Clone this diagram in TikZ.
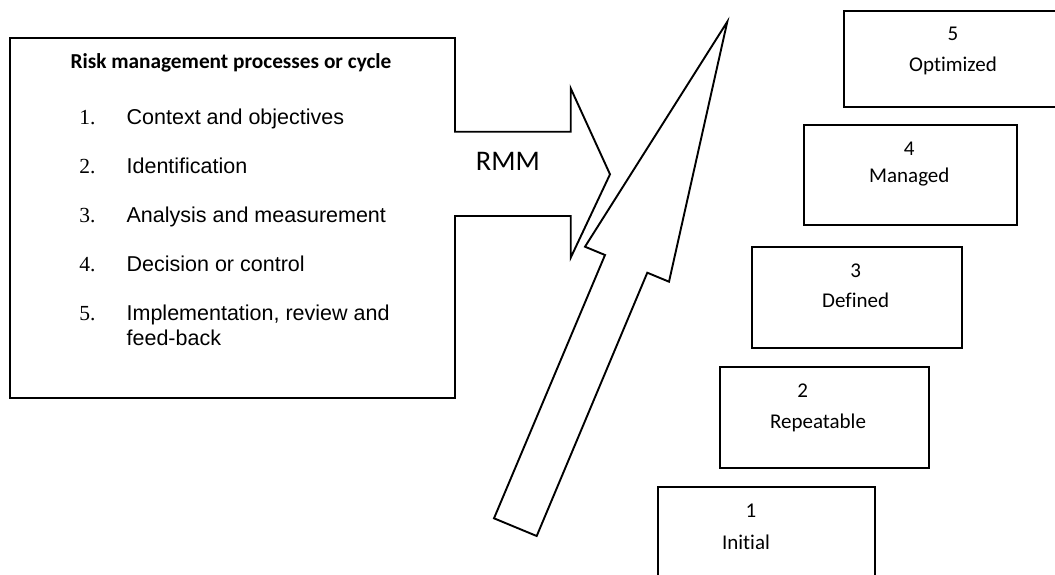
\documentclass[tikz,border=0pt]{standalone}
\usepackage{fontspec}
\setmainfont{Carlito}[Ligatures=NoCommon]
\newfontfamily\arialf{Liberation Sans}
\newfontfamily\timesf{Liberation Serif}
\begin{document}
\begin{tikzpicture}[x=1pt,y=-1pt,line width=1.9pt,line join=miter,
  framebox/.style={draw,inner sep=0,anchor=north west,fill=white},
  itemnum/.style={anchor=base west,inner sep=0,font=\timesf\fontsize{21.5}{25}\selectfont},
  itemtxt/.style={anchor=base west,inner sep=0,font=\arialf\fontsize{21.5}{25}\selectfont},
  lvltxt/.style={anchor=base,inner sep=0,font=\fontsize{21}{25}\selectfont},
  shapeline/.style={draw,fill=white}]
\useasboundingbox (0,0) rectangle (1055,574);
\clip (0,0) rectangle (1055,574);

% left box
\node[framebox,minimum width=445pt,minimum height=360pt] (rmp) at (9,37) {};
\node[anchor=base,inner sep=0,font=\bfseries\fontsize{21.3}{25}\selectfont] (title) at (231,68.3) {Risk management processes or cycle};
\node[itemnum] (n1) at (78.3,124.3) {1.};
\node[itemtxt] (t1) at (125.7,124.3) {Context and objectives};
\node[itemnum] (n2) at (78.3,173.3) {2.};
\node[itemtxt] (t2) at (125.7,173.3) {Identification};
\node[itemnum] (n3) at (78.3,222.3) {3.};
\node[itemtxt] (t3) at (125.7,222.3) {Analysis and measurement};
\node[itemnum] (n4) at (78.3,271.3) {4.};
\node[itemtxt] (t4) at (125.7,271.3) {Decision or control};
\node[itemnum] (n5) at (78.3,320.3) {5.};
\node[itemtxt] (t5) at (125.7,320.3) {Implementation, review and};
\node[itemtxt] (t5b) at (125.7,345.3) {feed-back};

% RMM block arrow
\coordinate (ra1) at (454,131.7);
\coordinate (ra2) at (570.7,131.7);
\coordinate (ra3) at (570.7,88.3);
\coordinate (ratip) at (610,174.3);
\coordinate (ra5) at (570.7,257.7);
\coordinate (ra6) at (570.7,216);
\coordinate (ra7) at (454,216);
\fill[white] (ra1) -- (ra2) -- (ra3) -- (ratip) -- (ra5) -- (ra6) -- (ra7) -- cycle;
\draw (ra1) -- (ra2) -- (ra3) -- (ratip) -- (ra5) -- (ra6) -- (ra7);
\node[anchor=base west,inner sep=0,font=\fontsize{28.4}{32}\selectfont] (rmm) at (475,170) {RMM};

% big diagonal arrow
\coordinate (ba1) at (727.3,21.7);
\coordinate (ba2) at (669,281.7);
\coordinate (ba3) at (647.3,272.7);
\coordinate (ba4) at (536.7,536);
\coordinate (ba5) at (494,518.3);
\coordinate (ba6) at (605,255);
\coordinate (ba7) at (585,246.7);
\draw[shapeline] (ba1) -- (ba2) -- (ba3) -- (ba4) -- (ba5) -- (ba6) -- (ba7) -- cycle;

% maturity level boxes
\node[framebox,minimum width=230pt,minimum height=95.6pt] (b5) at (843.3,10.3) {};
\node[lvltxt] (l5a) at (953,40.4) {5};
\node[lvltxt] (l5b) at (953,71) {Optimized};

\node[framebox,minimum width=213pt,minimum height=100pt] (b4) at (802.7,124.3) {};
\node[lvltxt] (l4a) at (909.3,155) {4};
\node[lvltxt] (l4b) at (909.3,182.7) {Managed};

\node[framebox,minimum width=210pt,minimum height=101.1pt] (b3) at (751,246.3) {};
\node[lvltxt] (l3a) at (855.7,277.6) {3};
\node[lvltxt] (l3b) at (855.7,307) {Defined};

\node[framebox,minimum width=209pt,minimum height=101.1pt] (b2) at (719.3,365.8) {};
\node[lvltxt] (l2a) at (802.7,397) {2};
\node[lvltxt] (l2b) at (818,428) {Repeatable};

\node[framebox,minimum width=217pt,minimum height=110pt] (b1) at (657.3,486) {};
\node[lvltxt] (l1a) at (751,517.7) {1};
\node[lvltxt] (l1b) at (746,549) {Initial};
\end{tikzpicture}
\end{document}
